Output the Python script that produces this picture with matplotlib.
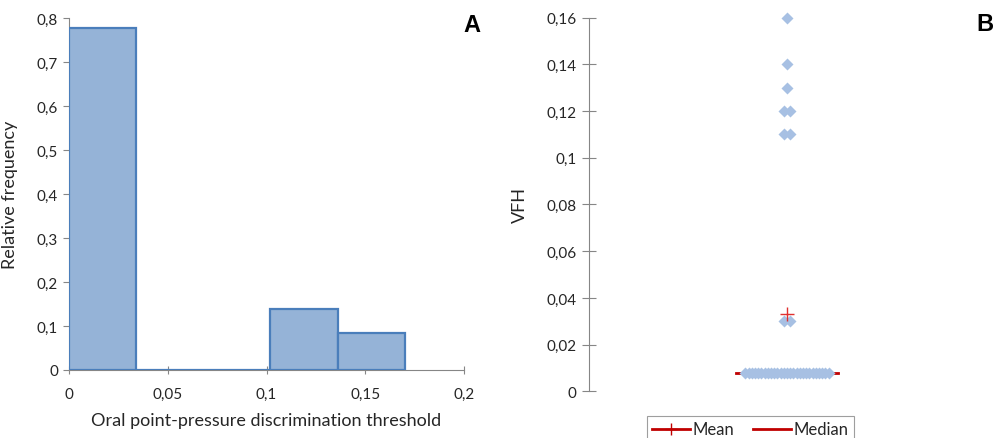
import matplotlib
matplotlib.use("Agg")
import matplotlib.pyplot as plt
from matplotlib.ticker import FuncFormatter, MultipleLocator
from matplotlib.lines import Line2D

plt.rcParams['font.family'] = ['Lato', 'DejaVu Sans']

# panel A: histogram of the discrimination threshold
bin_edges = [0, 0.034, 0.068, 0.102, 0.136, 0.17]
rel_freq = [0.778, 0, 0, 0.139, 0.083]

# panel B: individual VFH values (value, count)
vfh_values = [0.16, 0.14, 0.13, 0.12, 0.11, 0.03, 0.008]
vfh_counts = [1, 1, 1, 2, 2, 2, 27]
vfh_mean = 0.033
vfh_median = 0.008

grey = '#868686'
txt = '#262626'
comma = FuncFormatter(lambda v, p: '{:g}'.format(round(v, 4)).replace('.', ','))

fig = plt.figure(figsize=(9.96, 4.39), dpi=100)

# ---- A ----
ax = fig.add_axes([0.0693, 0.1549, 0.3966, 0.8018])
widths = [bin_edges[i + 1] - bin_edges[i] for i in range(len(rel_freq))]
ax.bar(bin_edges[:-1], rel_freq, width=widths, align='edge',
       color='#95B3D7', edgecolor='#4A7EBB', linewidth=1.6, zorder=3)
ax.set_xlim(0, 0.2)
ax.set_ylim(0, 0.8)
ax.xaxis.set_major_locator(MultipleLocator(0.05))
ax.yaxis.set_major_locator(MultipleLocator(0.1))
ax.xaxis.set_major_formatter(comma)
ax.yaxis.set_major_formatter(comma)
for s in ['top', 'right']:
    ax.spines[s].set_visible(False)
for s in ['left', 'bottom']:
    ax.spines[s].set_color(grey)
    ax.spines[s].set_linewidth(0.8)
ax.tick_params(axis='y', direction='out', length=4, width=0.8, color=grey,
               labelsize=11, labelcolor=txt, pad=4)
ax.tick_params(axis='x', direction='inout', length=6, width=0.8, color=grey,
               labelsize=11, labelcolor=txt, pad=9)
ax.set_xlabel('Oral point-pressure discrimination threshold', fontsize=13, color=txt)
ax.set_ylabel('Relative frequency', fontsize=13, color=txt)
ax.xaxis.set_label_coords(0.5, -0.119)
ax.yaxis.set_label_coords(-0.129, 0.5)
fig.text(0.474, 0.943, 'A', fontsize=17, fontweight='bold', ha='center', va='center',
         family='Liberation Sans')

# ---- B ----
bx = fig.add_axes([0.5914, 0.1064, 0.3976, 0.851])


def spread(n):
    step = min(0.033, 0.42 / max(n - 1, 1))
    return [(i - (n - 1) / 2) * step for i in range(n)]


xs, ys = [], []
for v, c in zip(vfh_values, vfh_counts):
    xs += spread(c)
    ys += [v] * c

bx.plot([-0.258, 0.258], [vfh_median, vfh_median], color='#C00000', lw=2, zorder=2)
bx.plot(xs, ys, 'D', ms=6, color='#A7C0E3', mec='none', zorder=3, clip_on=False)
bx.plot([0], [vfh_mean], '+', ms=10, mew=1, color='#E0302F', zorder=4)
bx.set_xlim(-1, 1)
bx.set_ylim(0, 0.16)
bx.yaxis.set_major_locator(MultipleLocator(0.02))
bx.yaxis.set_major_formatter(comma)
bx.set_xticks([])
for s in ['top', 'right', 'bottom']:
    bx.spines[s].set_visible(False)
bx.spines['left'].set_color(grey)
bx.spines['left'].set_linewidth(0.8)
bx.tick_params(axis='y', direction='inout', length=10, width=0.8, color=grey,
               labelsize=11, labelcolor=txt, pad=4)
bx.set_ylabel('VFH', fontsize=13, color=txt)
bx.yaxis.set_label_coords(-0.154, 0.5)
fig.text(0.989, 0.945, 'B', fontsize=17, fontweight='bold', ha='center', va='center',
         family='Liberation Sans')

handles = [Line2D([], [], color='#C00000', lw=2, marker='+', ms=9, mew=1),
           Line2D([], [], color='#C00000', lw=2)]
fig.legend(handles, ['Mean', 'Median'], loc='upper center', bbox_to_anchor=(0.7535, 0.068),
           ncol=2, fontsize=12, frameon=True, fancybox=False, edgecolor=grey,
           handlelength=2.3, handletextpad=0.15, columnspacing=1.1,
           borderpad=0.3, labelcolor=txt).get_frame().set_linewidth(0.8)

fig.savefig('out.png', dpi=100)
